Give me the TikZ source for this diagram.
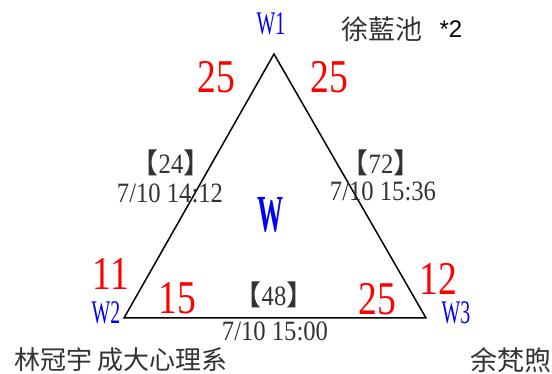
\documentclass[tikz,border=0pt]{standalone}
\usepackage{fontspec}
\setmainfont{Liberation Serif}
\newfontfamily\cjk{Noto Sans CJK TC}
\newfontfamily\narrow[FakeStretch=0.8]{Liberation Serif}
\newfontfamily\mednarrow[FakeStretch=0.88]{Liberation Serif}
\newfontfamily\wnarrow[FakeStretch=0.6]{Liberation Serif}
\newfontfamily\wbold[FakeStretch=0.5]{Liberation Serif Bold}
\newfontfamily\sans{Liberation Sans}
\begin{document}
\begin{tikzpicture}[x=1pt,y=-1pt,
  redn/.style={text=red, font=\narrow\fontsize{47}{47}\selectfont, inner sep=0pt},
  wlab/.style={text=blue, font=\wnarrow\fontsize{33}{33}\selectfont, inner sep=0pt},
  small/.style={text=black!80, font=\mednarrow\fontsize{28}{28}\selectfont, inner sep=0pt},
  cn/.style={text=black!80, font=\cjk\fontsize{26}{26}\selectfont, inner sep=0pt},
  edge/.style={draw=black, line width=1.5pt, line join=miter}]
\useasboundingbox (0,0) rectangle (552,374);
\coordinate (A) at (274,54);
\coordinate (B) at (124,318);
\coordinate (C) at (426,318);
\draw[edge] (A) -- (B) -- (C) -- cycle;
% vertex labels
\node[wlab] (w1) at (271,24) {W1};
\node[wlab] (w2) at (106,313) {W2};
\node[wlab] (w3) at (456,313) {W3};
\node[text=blue, font=\wbold\fontsize{52}{52}\selectfont, inner sep=0pt] (w) at (270,215) {W};
% red numbers
\node[redn] (r1) at (216,77) {25};
\node[redn] (r2) at (329,77) {25};
\node[redn] (r3) at (111,274) {11};
\node[redn] (r4) at (177,298) {15};
\node[redn] (r5) at (377,299) {25};
\node[redn] (r6) at (438,279) {12};
% edge labels
\node[small] (b1) at (171,163) {{\cjk 【}24{\cjk 】}};
\node[small] (t1) at (170,193) {7/10 14:12};
\node[small] (b2) at (381,163) {{\cjk 【}72{\cjk 】}};
\node[small] (t2) at (383,191) {7/10 15:36};
\node[small] (b3) at (274,295) {{\cjk 【}48{\cjk 】}};
\node[small] (t3) at (275,331) {7/10 15:00};
% names
\node[cn, font=\cjk\fontsize{27}{27}\selectfont] (n1) at (382,29) {徐藍池};
\node[text=black, font=\sans\fontsize{24}{24}\selectfont, inner sep=0pt] (s2) at (451,29) {*2};
\node[cn] (n2) at (121,360) {林冠宇 成大心理系};
\node[cn, font=\cjk\fontsize{27}{27}\selectfont] (n3) at (511,360) {余梵煦};
\end{tikzpicture}
\end{document}
